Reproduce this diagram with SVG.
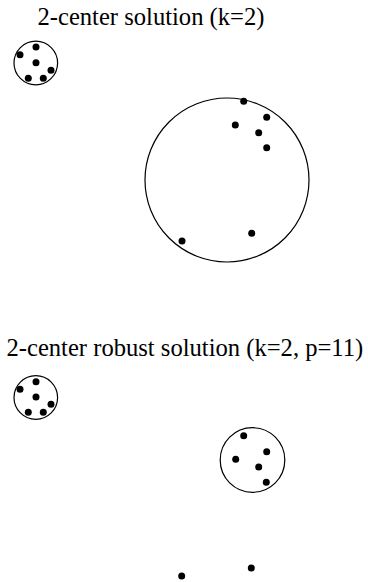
<svg xmlns="http://www.w3.org/2000/svg" width="368" height="582" viewBox="0 0 368 582">
<style>
.t{font-family:'Liberation Serif','Times New Roman',serif;font-size:24.6px;fill:#000}
.c{fill:none;stroke:#000;stroke-width:1.2}
.d{fill:#000}
</style>
<rect width="368" height="582" fill="#fff"/>
<g id="title1"><text class="t" font-family="Liberation Serif, serif" x="37.5" y="24.5">2-center solution (k=2)</text></g>
<g id="section1">
<g id="cluster1a">
<circle class="c" cx="35.8" cy="63" r="21.8"/>
<circle class="d" cx="36" cy="47" r="3.5"/>
<circle class="d" cx="20" cy="54.7" r="3.5"/>
<circle class="d" cx="36" cy="62.7" r="3.5"/>
<circle class="d" cx="51" cy="70.3" r="3.5"/>
<circle class="d" cx="28.3" cy="78.3" r="3.5"/>
<circle class="d" cx="43.3" cy="78.3" r="3.5"/>
</g>
<g id="cluster1b">
<circle class="c" cx="227" cy="180" r="82"/>
<circle class="d" cx="243.7" cy="101.3" r="3.5"/>
<circle class="d" cx="266.7" cy="117.3" r="3.5"/>
<circle class="d" cx="235.3" cy="125" r="3.5"/>
<circle class="d" cx="258.7" cy="132.7" r="3.5"/>
<circle class="d" cx="266.7" cy="147.7" r="3.5"/>
<circle class="d" cx="251.7" cy="233.3" r="3.5"/>
<circle class="d" cx="182" cy="241" r="3.5"/>
</g>
</g>
<g id="title2"><text class="t" font-family="Liberation Serif, serif" x="6.5" y="356">2-center robust solution (k=2, p=11)</text></g>
<g id="section2">
<g id="cluster2a">
<circle class="c" cx="35.8" cy="397.5" r="21.8"/>
<circle class="d" cx="36" cy="381.7" r="3.5"/>
<circle class="d" cx="20" cy="389.3" r="3.5"/>
<circle class="d" cx="36" cy="397" r="3.5"/>
<circle class="d" cx="51" cy="404.3" r="3.5"/>
<circle class="d" cx="28.3" cy="412.3" r="3.5"/>
<circle class="d" cx="43.3" cy="412.3" r="3.5"/>
</g>
<g id="cluster2b">
<circle class="c" cx="252.5" cy="460" r="32.3"/>
<circle class="d" cx="243.7" cy="435.7" r="3.5"/>
<circle class="d" cx="266.7" cy="451.7" r="3.5"/>
<circle class="d" cx="235.7" cy="459.3" r="3.5"/>
<circle class="d" cx="258.7" cy="467" r="3.5"/>
<circle class="d" cx="266.3" cy="482.3" r="3.5"/>
</g>
<g id="outliers">
<circle class="d" cx="251.3" cy="568" r="3.5"/>
<circle class="d" cx="181.7" cy="576" r="3.5"/>
</g>
</g>
<g id="connectors"/>
</svg>
